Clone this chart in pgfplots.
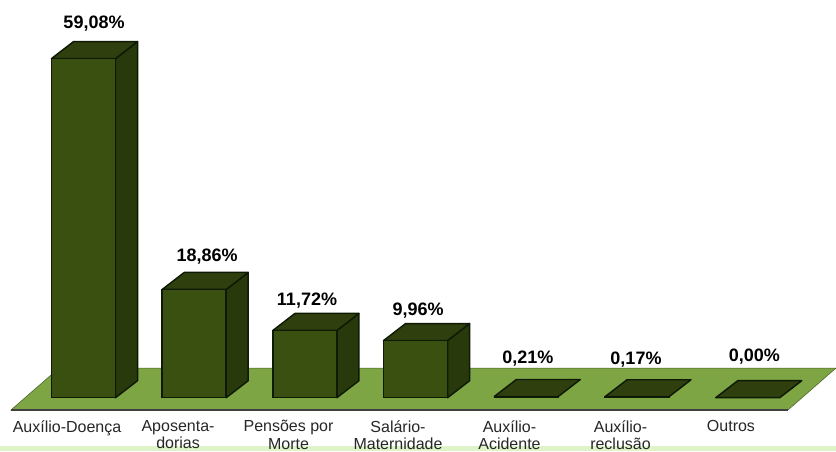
\documentclass[border=0pt]{standalone}
\usepackage{pgfplots}
\pgfplotsset{compat=1.18}
\usepackage{fontspec}
\setmainfont{Liberation Sans}
\definecolor{frontc}{HTML}{3A5011}
\definecolor{sidec}{HTML}{28390B}
\definecolor{topc}{HTML}{2F400E}
\definecolor{floorc}{HTML}{7DA544}
\definecolor{edgec}{HTML}{0E1A06}
\definecolor{stripc}{HTML}{DFF3C9}
\tikzset{
    barside/.style={fill=sidec,draw=edgec,line width=1.1pt,line join=round},
    bartop/.style={fill=topc,draw=edgec,line width=1.1pt,line join=round},
    val/.style={font=\fontsize{13.5}{16}\selectfont\bfseries,text=black,inner sep=0pt},
    cat/.style={font=\fontsize{12}{13}\selectfont,text=black!85,inner sep=0pt,anchor=north,align=center},
}
\begin{document}
\begin{tikzpicture}
\begin{axis}[
    scale only axis,
    width=627pt,
    height=338.25pt,
    xmin=-0.7543, xmax=6.7977,
    ymin=-9.286, ymax=69.286,
    hide axis,
]
% hidden axis gives no bounding box, so keep the full slide area
\path (rel axis cs:0,0) rectangle (rel axis cs:1,1);
% strip at the bottom of the slide
\addplot[fill=stripc,draw=none] coordinates {(-0.7543,-9.286) (6.7977,-9.286) (6.7977,-8.41) (-0.7543,-8.41)} -- cycle;
% floor
\addplot[fill=floorc,draw=floorc!60!black,line width=0.4pt] coordinates {(-0.6549,-2.14) (6.364,-2.14) (6.798,5.17) (-0.2213,5.17)} -- cycle;
\addplot[draw=black!75,line width=1pt] coordinates {(-0.6549,-2.14) (6.364,-2.14)};
% side faces
\addplot[barside] coordinates {(0.289,0) (0.488,2.96) (0.488,62.04) (0.289,59.08)} -- cycle;
\addplot[barside] coordinates {(1.289,0) (1.488,2.96) (1.488,21.82) (1.289,18.86)} -- cycle;
\addplot[barside] coordinates {(2.289,0) (2.488,2.96) (2.488,14.68) (2.289,11.72)} -- cycle;
\addplot[barside] coordinates {(3.289,0) (3.488,2.96) (3.488,12.92) (3.289,9.96)} -- cycle;
% top faces
\addplot[bartop] coordinates {(-0.289,59.08) (-0.09,62.04) (0.488,62.04) (0.289,59.08)} -- cycle;
\addplot[bartop] coordinates {(0.711,18.86) (0.91,21.82) (1.488,21.82) (1.289,18.86)} -- cycle;
\addplot[bartop] coordinates {(1.711,11.72) (1.91,14.68) (2.488,14.68) (2.289,11.72)} -- cycle;
\addplot[bartop] coordinates {(2.711,9.96) (2.91,12.92) (3.488,12.92) (3.289,9.96)} -- cycle;
\addplot[bartop] coordinates {(3.711,0.21) (3.91,3.17) (4.488,3.17) (4.289,0.21)} -- cycle;
\addplot[bartop] coordinates {(4.711,0.17) (4.91,3.13) (5.488,3.13) (5.289,0.17)} -- cycle;
\addplot[bartop] coordinates {(5.711,0) (5.91,2.96) (6.488,2.96) (6.289,0)} -- cycle;
% front faces
\addplot[ybar,bar width=48pt,fill=frontc,draw=edgec,line width=1.1pt] coordinates {
(0,59.08) (1,18.86) (2,11.72) (3,9.96) (4,0.21) (5,0.17) (6,0)};
% value labels
\node[val] at (axis cs:0.095,65.1) {59,08\%};
\node[val] at (axis cs:1.116,24.5) {18,86\%};
\node[val] at (axis cs:2.019,16.85) {11,72\%};
\node[val] at (axis cs:3.022,15.1) {9,96\%};
\node[val] at (axis cs:4.015,6.75) {0,21\%};
\node[val] at (axis cs:4.991,6.58) {0,17\%};
\node[val] at (axis cs:6.061,7.1) {0,00\%};
% category labels
\node[cat] at (axis cs:-0.149,-3.9) {Auxílio-Doença};
\node[cat] at (axis cs:0.854,-3.9) {Aposenta-\\dorias};
\node[cat] at (axis cs:1.852,-3.9) {Pensões por\\Morte};
\node[cat] at (axis cs:2.841,-3.9) {Salário-\\Maternidade};
\node[cat] at (axis cs:3.848,-3.9) {Auxílio-\\Acidente};
\node[cat] at (axis cs:4.851,-3.9) {Auxílio-\\reclusão};
\node[cat] at (axis cs:5.849,-3.9) {Outros};
\end{axis}
\end{tikzpicture}
\end{document}
